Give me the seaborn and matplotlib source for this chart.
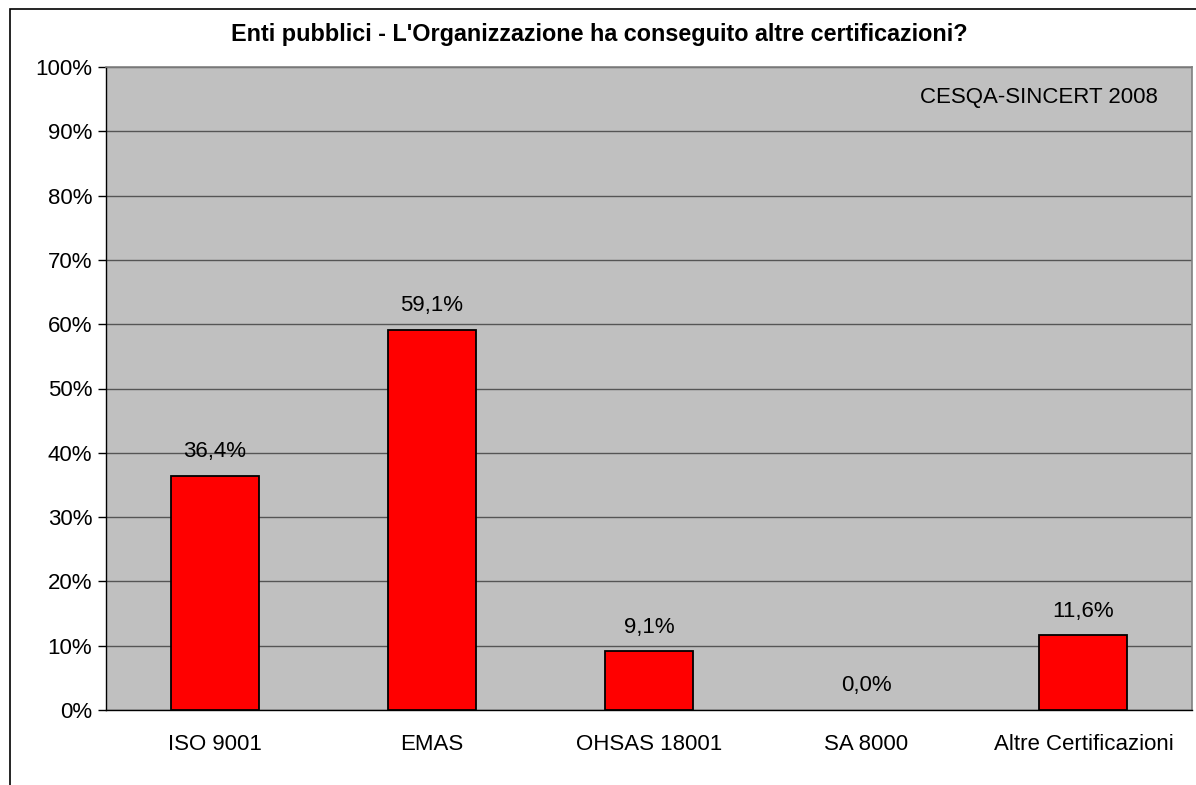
import matplotlib
matplotlib.use("Agg")
import matplotlib.pyplot as plt
import seaborn as sns
import pandas as pd
from matplotlib.patches import Rectangle
from matplotlib.ticker import FixedLocator

categories = ["ISO 9001", "EMAS", "OHSAS 18001", "SA 8000", "Altre Certificazioni"]
values = [36.4, 59.1, 9.1, 0.0, 11.6]
yticks = [0, 10, 20, 30, 40, 50, 60, 70, 80, 90, 100]
title = "Enti pubblici - L'Organizzazione ha conseguito altre certificazioni?"
note = "CESQA-SINCERT 2008"

sns.set_theme(style="white")
plt.rcParams['font.family'] = ['Liberation Sans', 'DejaVu Sans']
plt.rcParams['text.color'] = 'black'
plt.rcParams['xtick.color'] = 'black'
plt.rcParams['ytick.color'] = 'black'
FS = 16

df = pd.DataFrame({"cat": categories, "val": values})

fig = plt.figure(figsize=(11.96, 7.85), dpi=100)
fig.patch.set_facecolor("white")
fig.patches.append(Rectangle((10/1196, -0.05), 1.2, 1 - 9/785 + 0.05, transform=fig.transFigure,
                             fill=False, edgecolor="black", linewidth=1.2, zorder=0))

ax = fig.add_axes([106/1196, 1 - 710/785, (1192-106)/1196, (710-67)/785])
ax.set_facecolor("#C0C0C0")

sns.barplot(data=df, x="cat", y="val", ax=ax, color="#FF0000", width=0.405,
            edgecolor="black", linewidth=1.3, saturation=1, zorder=3)
for p in ax.patches:
    if p.get_height() == 0:
        p.set_visible(False)

ax.set_ylim(0, 100)
ax.set_xlim(-0.5, len(categories) - 0.5)
ax.set_yticks(yticks)
ax.set_yticklabels([f"{t}%" for t in yticks], fontsize=FS)
ax.set_xticks(range(len(categories)))
ax.set_xticklabels(categories, fontsize=FS)
ax.tick_params(axis="x", length=0, pad=17)
ax.xaxis.set_minor_locator(FixedLocator([i - 0.5 for i in range(len(categories) + 1)]))
ax.tick_params(axis="x", which="minor", length=6, width=1, color="black", direction="out")
ax.tick_params(axis="y", length=6, width=1, color="black", direction="out", left=True, pad=4)
ax.set_xlabel("")
ax.set_ylabel("")
ax.grid(axis="y", color="#555555", linewidth=1, zorder=1)
ax.set_axisbelow(True)

for side in ["top", "right"]:
    ax.spines[side].set_color("#808080")
    ax.spines[side].set_linewidth(1.2)
for side in ["left", "bottom"]:
    ax.spines[side].set_color("black")
    ax.spines[side].set_linewidth(1)

for i, v in enumerate(values):
    ax.annotate(f"{v:.1f}%".replace(".", ","), (i, v), xytext=(0, 10), textcoords="offset points",
                ha="center", va="bottom", fontsize=FS, color="black")

ax.text(0.969, 0.952, note, transform=ax.transAxes, ha="right", va="center", fontsize=FS)
fig.text(599 / 1196, 1 - 35/785, title, ha="center", va="center",
         fontsize=16.8, fontweight="bold")

fig.savefig("out.png", dpi=100)
